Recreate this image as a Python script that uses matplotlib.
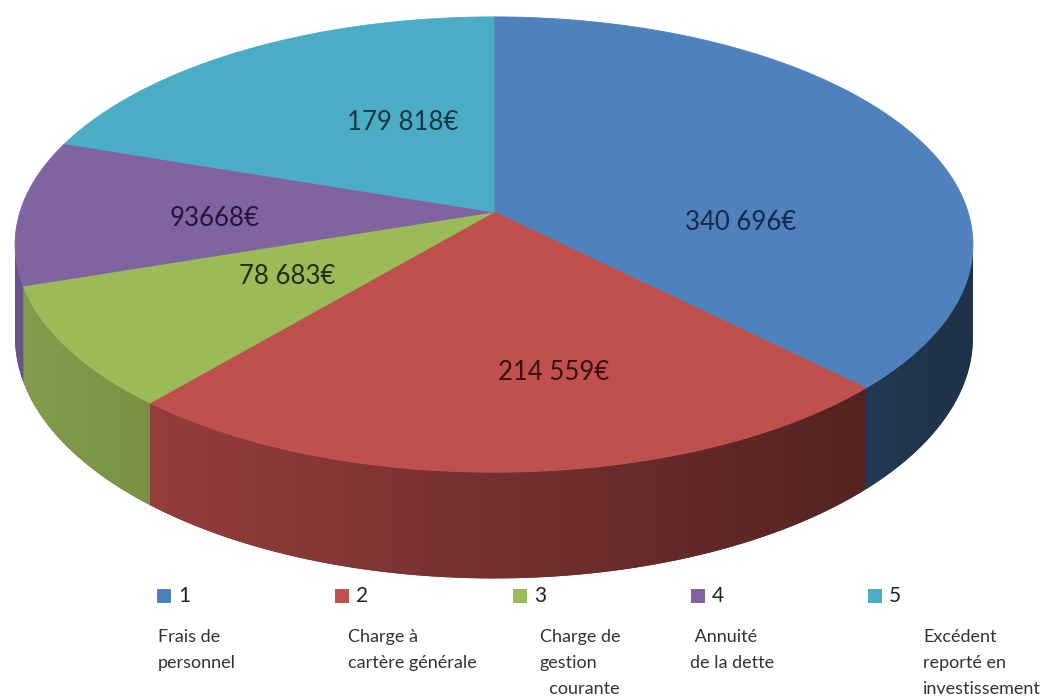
import numpy as np
import matplotlib.pyplot as plt
from matplotlib.patches import Polygon
from matplotlib.colors import to_rgb

plt.switch_backend('Agg')

# slice values (clockwise from 12 o'clock)
values = [340696, 214559, 78683, 93668, 179818]
value_labels = ['340 696€', '214 559€', '78 683€', '93668€', '179 818€']
legend_keys = ['1', '2', '3', '4', '5']
legend_texts = [
    ['Frais de', 'personnel'],
    ['Charge à', 'cartère générale'],
    ['Charge de', 'gestion', '  courante'],
    [' Annuité', 'de la dette'],
    ['Excédent', 'reporté en', 'investissement'],
]
colors = ['#4F81BD', '#C0504D', '#9BBB59', '#8064A2', '#4BACC6']
label_colors = ['#14284a', '#3a0f0f', '#1f2e0c', '#261538', '#123844']

# layout of the 3d pie (pixel space)
CX, CY = 494, 212      # projected centre of the top face
A, B = 474, 223        # horizontal / vertical radius
C = 0.143              # perspective strength
H = 91                 # thickness
label_xy = [(741, 223), (554, 372), (287, 277), (215, 218), (403, 123)]
legend_x = [164, 342, 520, 698, 875]
legend_text_x = [158, 348, 540, 690, 923]

FONT = ['Lato', 'DejaVu Sans']


def project(theta, r=1.0, bottom=False):
    X = r * np.sin(theta)
    Y = r * np.cos(theta)
    d = 1 + C * Y
    x = CX + A * X / d
    y = CY - B * Y / d + (H / d if bottom else 0)
    return x, y


def shade_factor(x):
    # darker on the right, like the Excel lighting
    return 0.84 - (x - 20) / 940 * 0.45


fig = plt.figure(figsize=(10.64, 6.98), dpi=100)
ax = fig.add_axes([0, 0, 1, 1])
ax.set_xlim(0, 1064)
ax.set_ylim(698, 0)
ax.axis('off')

fracs = np.array(values) / np.sum(values)
edges = np.concatenate([[0], np.cumsum(fracs)]) * 2 * np.pi

# side wall, only the front half is visible
vis_lo = np.arccos(-C)
vis_hi = 2 * np.pi - vis_lo
xgrid = np.linspace(0, 1064, 1064)
for i in range(len(values)):
    t0, t1 = max(edges[i], vis_lo), min(edges[i + 1], vis_hi)
    if t1 <= t0:
        continue
    ts = np.linspace(t0, t1, 200)
    xt, yt = project(ts)
    xb, yb = project(ts, bottom=True)
    pts = list(zip(xt, yt)) + list(zip(xb[::-1], yb[::-1]))
    base = np.array(to_rgb(colors[i]))
    side = Polygon(pts, closed=True, facecolor=base * 0.6, edgecolor='none')
    ax.add_patch(side)
    grad = np.clip(shade_factor(xgrid)[None, :, None] * base[None, None, :], 0, 1)
    im = ax.imshow(grad, extent=(0, 1064, 698, 0), aspect='auto',
                   interpolation='bilinear', zorder=1)
    im.set_clip_path(side)

# top faces
for i in range(len(values)):
    ts = np.linspace(edges[i], edges[i + 1], 200)
    xs, ys = project(ts)
    pts = [(CX, CY)] + list(zip(xs, ys))
    ax.add_patch(Polygon(pts, closed=True, facecolor=colors[i],
                         edgecolor=colors[i], lw=0.6, zorder=2))

# data labels
for (x, y), txt, c in zip(label_xy, value_labels, label_colors):
    ax.text(x, y, txt, ha='center', va='center', fontsize=18.5,
            color=c, family=FONT, zorder=3)

# legend
for i in range(len(values)):
    ax.add_patch(Polygon([(legend_x[i] - 7, 589), (legend_x[i] + 7, 589),
                          (legend_x[i] + 7, 603), (legend_x[i] - 7, 603)],
                         closed=True, facecolor=colors[i], edgecolor='none'))
    ax.text(legend_x[i] + 14, 596, legend_keys[i], ha='left', va='center',
            fontsize=15, color='#222222', family=FONT)
    for j, line in enumerate(legend_texts[i]):
        ax.text(legend_text_x[i], 637 + j * 26, line, ha='left', va='center',
                fontsize=13, color='#333333', family=FONT)

ax.set_xlim(0, 1064)
ax.set_ylim(698, 0)
fig.savefig('out.png', dpi=100, facecolor='white')
plt.close(fig)
